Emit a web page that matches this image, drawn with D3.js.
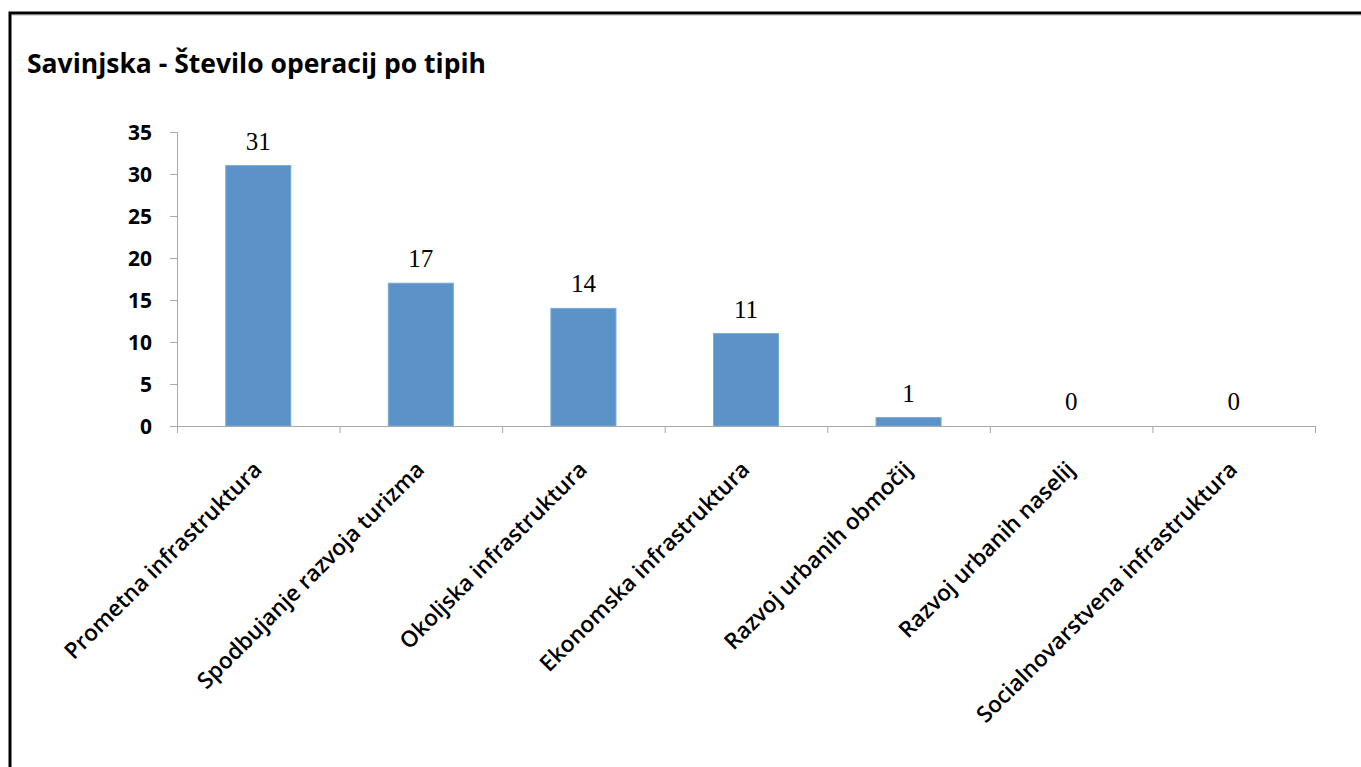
<!DOCTYPE html>
<html>
<head>
<meta charset="utf-8">
<script src="https://cdn.jsdelivr.net/npm/d3@7"></script>
<style>
  html, body { margin: 0; padding: 0; background: #fff; }
  svg { display: block; }
</style>
</head>
<body>
<svg id="chart" width="1361" height="767"></svg>
<script>
// Number of operations by type, Savinjska region
const categories = [
  "Prometna infrastruktura",
  "Spodbujanje razvoja turizma",
  "Okoljska infrastruktura",
  "Ekonomska infrastruktura",
  "Razvoj urbanih območij",
  "Razvoj urbanih naselij",
  "Socialnovarstvena infrastruktura"
];
const values = [31, 17, 14, 11, 1, 0, 0];
const yTicks = [0, 5, 10, 15, 20, 25, 30, 35];
const title = "Savinjska - Število operacij po tipih";

const svg = d3.select("#chart");
const W = 1361, H = 767;

// chart frame
svg.append("rect")
  .attr("x", 10).attr("y", 13)
  .attr("width", W + 20).attr("height", H + 20)
  .attr("fill", "#fff")
  .attr("stroke", "#000").attr("stroke-width", 3);
svg.append("line")
  .attr("x1", 12).attr("x2", W).attr("y1", 15.5).attr("y2", 15.5)
  .attr("stroke", "#d9d9d9").attr("stroke-width", 1);

svg.append("text")
  .attr("x", 27).attr("y", 73)
  .attr("font-family", "'Open Sans', sans-serif")
  .attr("font-weight", 700)
  .attr("font-size", 26.5)
  .attr("fill", "#000")
  .text(title);

const plot = { left: 177, right: 1315, top: 132, bottom: 426 };

const x = d3.scaleBand()
  .domain(categories)
  .range([plot.left, plot.right])
  .padding(0);

const y = d3.scaleLinear()
  .domain([0, 35])
  .range([plot.bottom, plot.top]);

const axisColor = "#a8a8a8";

// y axis
const yAxis = svg.append("g")
  .attr("transform", `translate(${plot.left},0)`)
  .call(d3.axisLeft(y).tickValues(yTicks).tickSize(7).tickPadding(18));
yAxis.select(".domain").attr("stroke", axisColor);
yAxis.selectAll(".tick line").attr("stroke", axisColor);
yAxis.selectAll(".tick text")
  .attr("font-family", "'Open Sans', sans-serif")
  .attr("font-weight", 700)
  .attr("font-size", 21)
  .attr("fill", "#000")
  .attr("dy", "0.34em");

// bars
const barW = x.bandwidth() * 0.4;
svg.append("g").selectAll("rect")
  .data(values)
  .join("rect")
  .attr("x", (d, i) => x(categories[i]) + (x.bandwidth() - barW) / 2)
  .attr("y", d => y(d))
  .attr("width", barW)
  .attr("height", d => y(0) - y(d))
  .attr("fill", "#5b93c8")
  .attr("stroke", "#7aa9d6")
  .attr("stroke-width", 1);

// x axis with boundary ticks
const xg = svg.append("g");
xg.append("line")
  .attr("x1", plot.left - 7).attr("x2", plot.right)
  .attr("y1", plot.bottom + 0.5).attr("y2", plot.bottom + 0.5)
  .attr("stroke", axisColor);
const bounds = categories.map(c => x(c)).concat([x.range()[1]]);
xg.selectAll("line.b")
  .data(bounds)
  .join("line")
  .attr("class", "b")
  .attr("x1", d => d + 0.5).attr("x2", d => d + 0.5)
  .attr("y1", plot.bottom).attr("y2", plot.bottom + 7)
  .attr("stroke", axisColor);

// value labels
svg.append("g").selectAll("text")
  .data(values)
  .join("text")
  .attr("x", (d, i) => x(categories[i]) + x.bandwidth() / 2)
  .attr("y", d => y(d) - 16)
  .attr("text-anchor", "middle")
  .attr("font-family", "'Liberation Serif', serif")
  .attr("font-size", 25)
  .attr("fill", "#000")
  .text(d => d);

// rotated category labels
svg.append("g").selectAll("text")
  .data(categories)
  .join("text")
  .attr("transform", c => `translate(${x(c) + x.bandwidth() / 2 + 5},${plot.bottom + 45}) rotate(-45)`)
  .attr("text-anchor", "end")
  .attr("font-family", "'Open Sans', sans-serif")
  .attr("font-weight", 600)
  .attr("font-size", 22.5)
  .attr("fill", "#000")
  .text(c => c);
</script>
</body>
</html>
